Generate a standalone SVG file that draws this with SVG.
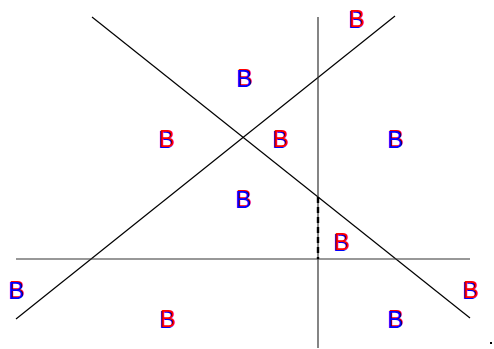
<svg xmlns="http://www.w3.org/2000/svg" width="494" height="349" viewBox="0 0 494 349">
<style>
.ln{stroke:#000;stroke-width:1.2;fill:none}
.vl{stroke:#333;stroke-width:1.2;fill:none}
.dash{stroke:#000;stroke-width:2.4;stroke-dasharray:6,4;fill:none}
text{font-family:"Liberation Sans",Arial,sans-serif;font-size:24px;text-anchor:middle}
.r{fill:#ff0000}
.b{fill:#0000ff}
</style>
<rect width="494" height="349" fill="#fff"/>
<g id="connectors">
<line class="ln" x1="92" y1="17" x2="470" y2="318"/>
<line class="ln" x1="16" y1="319" x2="395" y2="16"/>
<line class="vl" x1="16" y1="259" x2="470" y2="259"/>
<line class="vl" x1="318" y1="17" x2="318" y2="348"/>
<line class="dash" x1="318" y1="197" x2="318" y2="259"/>
<rect x="490" y="342" width="2" height="2" fill="#000"/>
</g>
<g id="n1"><text class="b" x="356" y="28">B</text><text class="r" x="357" y="27">B</text></g>
<g id="n2"><text class="r" x="245" y="86">B</text><text class="b" x="244" y="87">B</text></g>
<g id="n3"><text class="b" x="166" y="148">B</text><text class="r" x="167" y="147">B</text></g>
<g id="n4"><text class="b" x="280" y="148">B</text><text class="r" x="281" y="147">B</text></g>
<g id="n5"><text class="r" x="396" y="147">B</text><text class="b" x="395" y="148">B</text></g>
<g id="n6"><text class="r" x="244" y="207">B</text><text class="b" x="243" y="208">B</text></g>
<g id="n7"><text class="b" x="341" y="251">B</text><text class="r" x="342" y="250">B</text></g>
<g id="n8"><text class="r" x="17" y="298">B</text><text class="b" x="16" y="299">B</text></g>
<g id="n9"><text class="b" x="470" y="299">B</text><text class="r" x="471" y="298">B</text></g>
<g id="n10"><text class="b" x="167" y="328">B</text><text class="r" x="168" y="327">B</text></g>
<g id="n11"><text class="r" x="396" y="327">B</text><text class="b" x="395" y="328">B</text></g>
</svg>
